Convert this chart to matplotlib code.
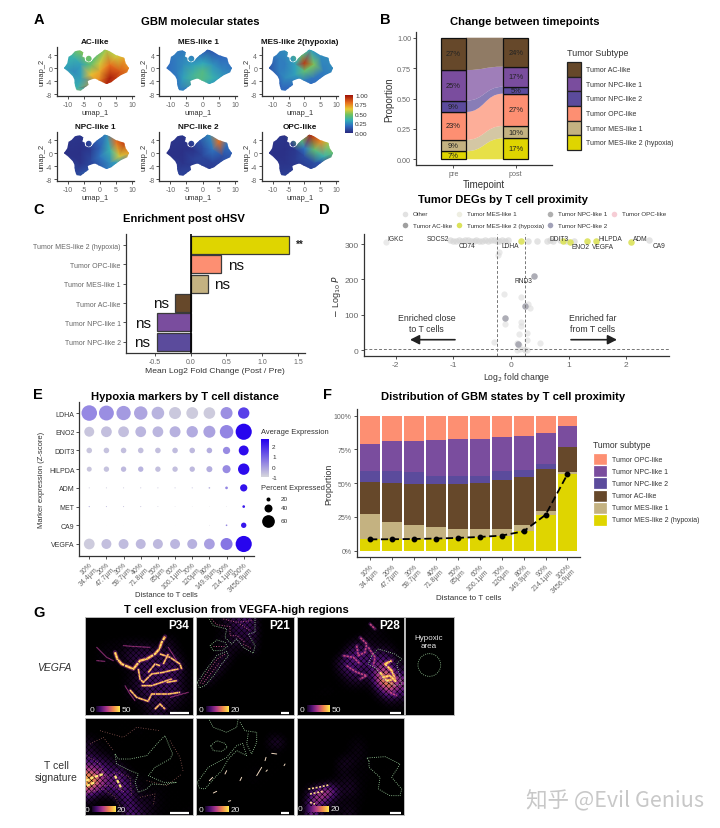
import numpy as np
import matplotlib
matplotlib.use('Agg')
import matplotlib.pyplot as plt
from matplotlib.colors import LinearSegmentedColormap, PowerNorm
from matplotlib.patches import PathPatch, Rectangle
from matplotlib.path import Path
from matplotlib.tri import Triangulation

plt.rcParams['font.family'] = ['Liberation Sans', 'DejaVu Sans']
plt.rcParams['axes.unicode_minus'] = False
plt.rcParams['hatch.linewidth'] = .4

W, H = 720, 829
DARK = '#333333'
GREY = '#666666'

COL_AC = '#66482a'
COL_NPC1 = '#7a4d9e'
COL_NPC2 = '#5b4b9c'
COL_OPC = '#fd8f72'
COL_MES1 = '#c4b281'
COL_MES2 = '#dfd500'

# panel A
STATE_NAMES = ['AC-like', 'MES-like 1', 'MES-like 2(hypoxia)',
               'NPC-like 1', 'NPC-like 2', 'OPC-like']
BLOB_X = [-11.2, -10.2, -9.8, -9, -7.8, -6.2, -5.2, -5.5, -4.8, -4.6, -3.5, -2.6, -2, -0.8, 0.6, 1.5,
          3, 5, 7.5, 8, 9, 8.5, 6.5, 5, 3.5, 2, 0.5, -1.5, -2.8, -3.8, -3.6, -4.5, -6, -7.3, -7.8, -8, -8.5, -10]
BLOB_Y = [0, 1.5, 3.5, 3.9, 5.2, 5.5, 4.8, 3.6, 3.2, 2.2, 1.7, 2.2, 3, 4, 5, 5.7,
          5.2, 4, 3.2, 1.5, 0, -1.3, -2.2, -3.2, -4.4, -4.9, -4.2, -3.2, -3.5, -4, -5.2, -5.8, -7, -6.8, -5.5, -3.5, -2.5, -1]
FIELD_X = [-13, 11, 11, -13, -11, -8, -6, -6, -3, -8, -6, -7, -3, 0, 0, -1, 2, 5, 7.5, 9, 6, 3, 3, 2, 5, -0.5]
FIELD_Y = [-9, -9, 7, 7, 0, 3, 5, 1, 1, -1, -3, -6, -2, -1, 1.5, 4, 5.5, 3.5, 3, 0, -1, 1, -3, -5, -3, -4]
AC_FIELD = [.6, .8, .6, .35, .3, .35, .5, .3, .45, .25, .3, .35, .65, .7, .6, .45, .55, .6, .7, .75, .85, .8, .97, .95, .9, .75]
MES1_FIELD = [.25, .25, .15, .2, .18, .22, .22, .25, .3, .22, .3, .22, .38, .42, .32, .2, .12, .17, .18, .2, .25, .27, .35, .3, .3, .42]
MES2_FIELD = [.2, .2, .25, .2, .12, .22, .25, .22, .3, .22, .25, .17, .3, .45, .92, .45, .3, .25, .25, .25, .22, .5, .2, .18, .2, .22]
NPC1_FIELD = [.05, .3, .5, .03, .02, .03, .03, .02, .05, .02, .03, .08, .08, .2, .15, .15, .25, .8, .9, .7, .6, .35, .25, .2, .3, .12]
NPC2_FIELD = [.05, .05, .2, .03, .02, .03, .03, .02, .03, .02, .03, .07, .07, .08, .1, .12, .25, .8, .2, .15, .1, .2, .07, .05, .08, .06]
OPC_FIELD = [.05, .1, .6, .03, .02, .03, .03, .02, .04, .02, .03, .05, .05, .1, .2, .45, .95, .75, .55, .45, .35, .45, .1, .07, .12, .05]

# panel B
B_LAYERS = ['Tumor MES-like 2 (hypoxia)', 'Tumor MES-like 1', 'Tumor OPC-like',
            'Tumor NPC-like 2', 'Tumor NPC-like 1', 'Tumor AC-like']
B_COLORS = [COL_MES2, COL_MES1, COL_OPC, COL_NPC2, COL_NPC1, COL_AC]
B_PRE = [.066, .093, .230, .093, .252, .266]
B_POST = [.173, .101, .266, .057, .165, .238]
B_PRE_LABEL = ['7%', '9%', '23%', '9%', '25%', '27%']
B_POST_LABEL = ['17%', '10%', '27%', '5%', '17%', '24%']

# panel C
C_NAMES = ['Tumor NPC-like 2', 'Tumor NPC-like 1', 'Tumor AC-like',
           'Tumor MES-like 1', 'Tumor OPC-like', 'Tumor MES-like 2 (hypoxia)']
C_VALUES = [-.48, -.47, -.22, .24, .43, 1.38]
C_COLORS = [COL_NPC2, COL_NPC1, COL_AC, COL_MES1, COL_OPC, COL_MES2]
C_SIG = ['ns', 'ns', 'ns', 'ns', 'ns', '**']

# panel D
BAND_X = [-1.05, -1, -.95, -.9, -.85, -.8, -.75, -.7, -.65, -.6, -.55, -.5, -.45, -.4, -.35, -.3, -.25, -.2,
          -.15, -.1, -.05, .3, .45, .62, .68, .72, .85, .95, 1.1, 2.4]
BAND_Y = [312, 308, 310, 312, 309, 311, 312, 309, 310, 312, 308, 310, 312, 309, 311, 312, 308, 310,
          312, 309, 311, 310, 310, 310, 312, 309, 311, 310, 308, 311]
OTHER_X = [-2.17, -.22, -.2, -.13, .17, .3, .33, .27, .28, .13, .17, -.1, -.3, .1, .13, .5, .15, .22, .25, .1, .28, .18]
OTHER_Y = [305, 270, 278, 160, 150, 130, 120, 50, 30, 45, 80, 75, 22, 20, 15, 20, 5, 5, 2, 2, 2, 70]
YELLOW_X = [.17, .9, 1.02, 1.32, 1.47, 2.08]
YELLOW_Y = [309, 309, 306, 308, 308, 307]
DARK_X = [.39, .25, -.1, .12]
DARK_Y = [210, 125, 90, 18]

# panel E
MARKERS = ['VEGFA', 'CA9', 'MET', 'ADM', 'HILPDA', 'DDIT3', 'ENO2', 'LDHA']
DIST_LABELS = ['10%\n34.4µm', '20%\n47.7µm', '30%\n59.7µm', '40%\n71.8µm', '50%\n85µm',
               '60%\n100.1µm', '70%\n120µm', '80%\n149.9µm', '90%\n214.1µm', '100%\n3456.9µm']
PCT_VEGFA = [52, 48, 48, 48, 48, 48, 48, 52, 58, 78]
PCT_CA9 = [.8, .8, .8, .8, .8, .8, .8, 3, 8, 26]
PCT_MET = [6, 5, 5, 5, 4, 3, 2.5, 2.5, 3, 13]
PCT_ADM = [5, 5, 5, 5, 5, 5, 5, 8, 13, 35]
PCT_HILPDA = [24, 26, 26, 26, 26, 26, 26, 29, 39, 55]
PCT_DDIT3 = [27, 27, 27, 27, 27, 27, 27, 27, 35, 48]
PCT_ENO2 = [48, 52, 52, 52, 52, 53, 55, 58, 65, 78]
PCT_LDHA = [75, 72, 69, 65, 61, 58, 57, 56, 58, 55]
EXP_VEGFA = [-.8, -.6, -.55, -.5, -.5, -.45, -.35, -.05, .65, 2.6]
EXP_CA9 = [-1, -1, -1, -1, -1, -1, -1, -.8, .3, 2.3]
EXP_MET = [-.4, -.5, -.6, -.7, -.8, -.85, -.95, -1, -.9, 2.2]
EXP_ADM = [-.8, -.8, -.8, -.7, -.7, -.7, -.6, -.4, .4, 2.4]
EXP_HILPDA = [-.7, -.65, -.5, -.4, -.6, -.6, -.5, -.3, .3, 2.5]
EXP_DDIT3 = [-.7, -.65, -.6, -.6, -.6, -.55, -.5, -.3, .3, 2.5]
EXP_ENO2 = [-.7, -.6, -.6, -.45, -.45, -.35, -.25, -.1, .4, 2.6]
EXP_LDHA = [.35, .25, .05, -.15, -.4, -.75, -.8, -.8, .2, 1.6]

# panel F
F_MES2 = [8.3, 8.4, 8.6, 8.9, 9.4, 10.1, 11.1, 14.3, 26.5, 56.7]
F_MES1 = [18.7, 12.6, 10, 8.4, 6.9, 5.7, 5.2, 4.3, 2.7, 1.7]
F_AC = [23.7, 29, 30.4, 31.7, 33.2, 34.4, 35.7, 35.9, 31.2, 18.3]
F_NPC2 = [8, 8.7, 8.9, 6.4, 5.9, 5.2, 6.7, 5.2, 3.6, .3]
F_NPC1 = [20, 22.5, 23, 26.5, 27, 27.5, 25.2, 25.4, 22.9, 15.3]
F_OPC = [21.3, 18.8, 19.1, 18.1, 17.6, 17.1, 16.1, 14.9, 13.1, 7.7]
F_LINE = [8.3, 8.4, 8.6, 8.9, 9.4, 10.1, 11.1, 14.3, 26.5, 56.7]

# panel G, coarse signal grids, top row first
P34_GRID = [[0, 0, 0, 0, 0, 0, 0, 0, 0, 0, 0],
            [0, 0, 0, 0, 0, 0, 0, 0, .02, .03, 0],
            [0, .02, .08, .1, .12, .15, .1, .05, .3, .05, 0],
            [0, .12, .15, .12, .3, .3, .35, .3, .3, .15, 0],
            [.02, .1, .12, .15, .3, .35, .35, .35, .35, .35, .02],
            [0, .03, .02, .02, .1, .3, .4, .4, .4, .4, .1],
            [0, 0, 0, .03, .15, .3, .4, .4, .4, .3, .1],
            [0, 0, 0, .02, .2, .3, .4, .35, .4, .35, .1],
            [0, 0, 0, 0, .1, .15, .3, .35, .3, .25, .1],
            [0, 0, 0, 0, .02, .05, .2, .3, .2, .1, .05]]
P21_GRID = [[0, .05, .15, .25, .35, .4, .35, 0, 0, 0, 0],
            [0, 0, .03, .15, .35, .3, .4, .02, 0, 0, 0],
            [0, 0, .2, .15, .3, .25, .3, .01, 0, 0, 0],
            [0, 0, .1, .25, .15, .05, .25, .01, 0, 0, 0],
            [0, .05, .3, .25, .02, 0, 0, 0, 0, 0, 0],
            [0, .2, .3, .05, 0, 0, 0, 0, 0, 0, 0],
            [.2, .3, .05, 0, 0, 0, 0, 0, 0, 0, 0],
            [.02, .02, 0, 0, 0, 0, 0, 0, 0, 0, 0],
            [0, 0, 0, 0, 0, 0, 0, 0, 0, 0, 0],
            [0, 0, 0, 0, 0, 0, 0, 0, 0, 0, 0]]
P28_GRID = [[0, 0, 0, 0, 0, 0, 0, .1, .1, .02, 0],
            [0, 0, 0, 0, 0, 0, 0, .15, .15, .02, 0],
            [0, 0, 0, 0, 0, .1, .3, .15, .1, .1, 0],
            [0, 0, 0, 0, .05, .45, .45, .35, .3, .3, .05],
            [0, 0, 0, .05, .4, .5, .45, .45, .5, .45, .15],
            [0, 0, 0, .02, .3, .45, .35, .35, .7, .7, .3],
            [0, 0, 0, .02, .05, .3, .3, .2, .9, 1, .6],
            [0, .03, .08, .1, .03, .05, .05, .05, .4, .8, .5],
            [.02, .05, .05, .02, 0, 0, .02, .02, .1, .3, .2],
            [.02, .01, 0, 0, 0, 0, 0, 0, 0, .03, .05]]
P34T_GRID = [[0, .02, .03, .03, .05, .05, .05, .03, .02, 0, 0],
             [.05, .03, .03, .05, .06, .08, .05, .04, .03, .01, 0],
             [.25, .08, .05, .04, .03, .03, .03, .03, .05, .02, 0],
             [.3, .15, .08, .03, .03, .02, .02, .02, .08, .03, 0],
             [.45, .4, .3, .08, .02, .02, .02, .04, .05, .03, .01],
             [.75, .6, .4, .5, .1, .03, .05, .03, .05, .04, .01],
             [1, .8, .45, .6, .35, .1, .08, .07, .06, .05, .02],
             [.7, .45, .4, .5, .45, .12, .1, .1, .06, .03, .02],
             [.25, .05, .05, .3, .5, .2, .25, .12, .06, .04, .03],
             [.1, 0, 0, .1, .5, .35, .2, .1, .05, .05, .08]]
P21T_GRID = [[.03, .03, .02, 0, 0, 0, 0, 0, 0, 0, 0],
             [.03, .03, .02, 0, 0, 0, 0, 0, .08, .02, 0],
             [.03, .02, .01, 0, 0, 0, 0, .02, .3, .35, 0],
             [.02, .01, 0, 0, 0, 0, .02, .03, .06, .05, .01],
             [.01, 0, 0, .02, .03, .03, .05, .05, .05, .04, .01],
             [0, 0, 0, .03, .03, .05, .08, .05, .05, .04, .02],
             [0, 0, .02, .03, .04, .05, .08, .05, .04, .02, .01],
             [0, 0, .02, .03, .04, .04, .04, .03, .02, .01, 0],
             [0, 0, .01, .02, .02, .02, .02, .01, 0, 0, 0],
             [0, 0, 0, 0, 0, 0, 0, 0, 0, 0, 0]]
P28T_GRID = [[0, 0, 0, 0, 0, 0, 0, 0, 0, 0, 0],
             [0, 0, 0, 0, 0, .03, .05, 0, 0, 0, 0],
             [0, 0, 0, 0, 0, .1, .15, .03, 0, 0, 0],
             [0, 0, 0, 0, 0, .1, .2, .03, 0, 0, 0],
             [0, 0, 0, 0, .25, .25, .1, .08, .02, .03, 0],
             [0, 0, 0, 0, .2, .1, .08, .08, .02, .08, .02],
             [0, 0, 0, .1, .15, .25, .1, .05, .02, .02, 0],
             [.02, .4, .7, .8, .2, .3, .1, .03, 0, 0, 0],
             [.05, .6, .7, .3, .15, .1, .1, .03, 0, 0, 0],
             [.02, .7, .2, .1, .15, .25, .05, 0, 0, 0, 0]]

# panel G, traces are in crop coordinates of each image
P34_BAND = [(105, 115), (112, 135), (125, 150), (160, 165), (180, 140), (200, 135), (225, 120), (238, 105), (245, 85), (255, 68)]
P34_HOT = [[(175, 165), (180, 195), (190, 205), (215, 180), (250, 175), (270, 170), (295, 165)],
           [(240, 120), (270, 130), (300, 150), (305, 165)],
           [(185, 215), (215, 215), (245, 205), (275, 195)],
           [(205, 260), (215, 240), (235, 240), (265, 240), (300, 235)],
           [(225, 285), (240, 270), (255, 285)],
           [(150, 228), (170, 250), (205, 262)],
           [(250, 150), (265, 120)], [(205, 175), (225, 150), (240, 155)], [(260, 205), (290, 200)]]
P34_DIM = [[(50, 100), (80, 130), (100, 140)], [(130, 95), (170, 98), (210, 100)], [(135, 215), (150, 240), (165, 260)],
           [(50, 140), (75, 142)], [(270, 250), (325, 235)], [(265, 100), (290, 140)]]
P21_OUT = [[(352, 205), (380, 165), (410, 125), (440, 112), (445, 125), (425, 150), (405, 180), (375, 215), (358, 222), (352, 205)],
           [(390, 95), (410, 78), (435, 85), (442, 98), (425, 110), (400, 110), (390, 95)],
           [(385, 10), (400, 35), (440, 45), (435, 70), (455, 90), (470, 75), (490, 100), (520, 118), (525, 95), (505, 60), (525, 55), (525, 10)]]
P21_SPECK = [[(360, 208), (385, 170), (412, 135), (435, 120)], [(368, 210), (395, 175), (420, 145)],
             [(400, 95), (432, 95)], [(395, 15), (410, 32), (450, 38), (450, 65), (470, 65), (495, 85)],
             [(430, 15), (470, 25), (515, 20)], [(480, 30), (510, 50)], [(490, 90), (515, 105)]]
P34T_OUT = [(105, 120), (115, 135), (150, 135), (200, 125), (235, 85), (255, 65), (278, 120), (270, 135), (225, 160), (205, 185),
            (250, 205), (290, 205), (250, 212), (215, 210), (200, 225), (175, 235), (165, 205), (175, 180), (140, 165), (110, 150), (105, 120)]
P34T_HOT = [[(18, 200), (40, 190), (70, 180)], [(20, 215), (45, 205)], [(105, 185), (115, 205), (125, 225)]]
P34T_SPECK = [[(20, 125), (60, 150), (75, 190), (110, 175), (150, 190), (155, 245)], [(20, 235), (70, 225), (105, 250), (130, 295)],
              [(30, 170), (60, 215), (95, 215), (135, 235)], [(180, 250), (225, 240), (220, 275)], [(60, 50), (130, 70), (170, 40), (240, 50)],
              [(30, 90), (70, 70), (100, 110)], [(200, 200), (260, 215), (305, 180)], [(270, 80), (300, 130), (310, 175)]]
P21T_OUT = [[(352, 205), (385, 160), (440, 130), (470, 95), (488, 88), (500, 125), (470, 110), (445, 135), (425, 170), (405, 190), (375, 225), (358, 222), (352, 205)],
            [(392, 95), (410, 80), (435, 88), (442, 100), (425, 112), (400, 110), (392, 95)],
            [(385, 12), (400, 40), (440, 55), (470, 40), (475, 12)], [(480, 25), (495, 50), (530, 55), (530, 85), (515, 120), (500, 90), (505, 55)]]
P21T_SPOTS = [[(530, 185), (545, 160)], [(480, 200), (485, 190)], [(435, 180), (440, 170)], [(400, 237), (410, 232)], [(558, 172), (562, 168)],
              [(555, 140), (558, 130)], [(575, 118), (590, 120)], [(612, 155), (615, 150)], [(445, 262), (452, 260)], [(388, 200), (398, 190)]]
P28_OUT = [(230, 125), (250, 105), (300, 120), (320, 135), (305, 150), (320, 210), (300, 215), (265, 195), (245, 165), (220, 150), (230, 125)]
P28_HOT = [[(255, 175), (275, 200), (300, 195), (290, 170), (270, 150), (290, 140)], [(262, 190), (285, 185), (305, 205)]]
P28_WARM = [[(185, 95), (190, 125), (210, 115), (215, 90), (195, 70)], [(145, 125), (175, 130), (195, 150)], [(155, 155), (185, 175), (215, 185), (195, 195)],
            [(220, 100), (240, 130), (235, 155)], [(225, 30), (240, 45)], [(285, 235), (305, 245)]]
P28T_OUT = [(222, 440), (215, 432), (270, 428), (315, 450), (290, 490), (320, 525), (315, 545), (285, 545), (250, 525), (255, 490), (222, 460), (222, 440)]
P28T_HOT = [[(40, 525), (70, 520), (105, 512)], [(45, 540), (85, 532)], [(45, 565), (60, 570)]]


def ax_px(left, top, right, bottom, **kw):
    return fig.add_axes([left / W, 1 - bottom / H, (right - left) / W, (bottom - top) / H], **kw)


def style(ax, size=5):
    ax.spines[['top', 'right']].set_visible(False)
    ax.spines[['left', 'bottom']].set_color(DARK)
    ax.spines[['left', 'bottom']].set_linewidth(.9)
    ax.tick_params(length=2, width=.6, color=DARK, labelcolor=GREY, labelsize=size, pad=1.5)
    ax.set_facecolor('none')


def put(x, y, s, size=5, color=DARK, ha='left', va='center', **kw):
    page.text(x, y, s, fontsize=size, color=color, ha=ha, va=va, **kw)


def key_rows(x, ys, labels, colors, size, edge):
    h = ys[1] - ys[0]
    for y, lab, c in zip(ys, labels, colors):
        page.add_patch(Rectangle((x, y - h / 2), 14, h, facecolor=c, edgecolor=edge, lw=.9))
        put(x + 19, y, lab, size)


fig = plt.figure(figsize=(W / 100, H / 100), dpi=100)
page = fig.add_axes([0, 0, 1, 1], zorder=10)
page.set_xlim(0, W)
page.set_ylim(H, 0)
page.axis('off')

# panel letters and titles
for lab, x, y in [('A', 39, 20), ('B', 385, 20), ('C', 39, 210), ('D', 324, 210), ('E', 38, 395), ('F', 327, 395), ('G', 39, 613)]:
    put(x, y, lab, 10.5, 'black', ha='center', fontweight='bold')
for s, x, y in [('GBM molecular states', 200, 22), ('Change between timepoints', 525, 22), ('Enrichment post oHSV', 184, 219),
                ('Tumor DEGs by T cell proximity', 503, 200), ('Hypoxia markers by T cell distance', 185, 397),
                ('Distribution of GBM states by T cell proximity', 503, 397), ('T cell exclusion from VEGFA-high regions', 236, 610)]:
    put(x, y, s, 8.1, 'black', ha='center', fontweight='bold')

# A: umap feature plots
UMAP_CMAP = LinearSegmentedColormap.from_list(
    'umap', [(0, '#2a2a80'), (.18, '#2f6cc0'), (.33, '#33aeb8'), (.48, '#6cc262'), (.63, '#e8cc35'), (.8, '#e8701e'), (1, '#a01208')])
blob = Path.make_compound_path(Path(list(zip(BLOB_X, BLOB_Y)) + [(BLOB_X[0], BLOB_Y[0])], closed=True),
                               Path.circle((-3.5, 2.9), .9))
tri = Triangulation(FIELD_X, FIELD_Y)
fields = [AC_FIELD, MES1_FIELD, MES2_FIELD, NPC1_FIELD, NPC2_FIELD, OPC_FIELD]
lefts = [57, 159.3, 262]
rights = [134, 237, 338]
tops = [48, 133]
bottoms = [97, 182]
for i, (name, field) in enumerate(zip(STATE_NAMES, fields)):
    r, c = i // 3, i % 3
    ax = ax_px(lefts[c], tops[r], rights[c], bottoms[r])
    style(ax)
    mesh = ax.tripcolor(tri, field, shading='gouraud', cmap=UMAP_CMAP, vmin=0, vmax=1)
    mesh.set_clip_path(PathPatch(blob, transform=ax.transData))
    ax.set_xlim(-13.4, 10.6)
    ax.set_ylim(-8.6, 6.5)
    ax.set_xticks([-10, -5, 0, 5, 10])
    ax.set_yticks([-8, -4, 0, 4])
    ax.set_xlabel('umap_1', fontsize=5.4, color=DARK, labelpad=1)
    ax.set_ylabel('umap_2', fontsize=5.4, color=DARK, labelpad=.5)
    ax.set_title(name, fontsize=5.9, fontweight='bold', pad=3, color='#111111')
cax = ax_px(344.7, 96.3, 352.3, 134)
cax.imshow(np.linspace(1, 0, 100)[:, None], aspect='auto', cmap=UMAP_CMAP, extent=[0, 1, 0, 1])
cax.axis('off')
for v, y in [('1.00', 96.5), ('0.75', 105.7), ('0.50', 115.2), ('0.25', 124.7), ('0.00', 134)]:
    put(355, y, v, 4.6)

# B: stacked bars with flows
ax = ax_px(416, 33, 552, 166)
style(ax, 5.2)
low_pre = np.concatenate([[0], np.cumsum(B_PRE)])
low_post = np.concatenate([[0], np.cumsum(B_POST)])
for i, c in enumerate(B_COLORS):
    a0, a1, b0, b1 = low_pre[i], low_pre[i + 1], low_post[i], low_post[i + 1]
    verts = [(1.2, a0), (1.5, a0), (1.5, b0), (1.8, b0), (1.8, b1), (1.5, b1), (1.5, a1), (1.2, a1), (1.2, a0)]
    codes = [Path.MOVETO, Path.CURVE4, Path.CURVE4, Path.CURVE4, Path.LINETO, Path.CURVE4, Path.CURVE4, Path.CURVE4, Path.CLOSEPOLY]
    ax.add_patch(PathPatch(Path(verts, codes), facecolor=c, edgecolor='none', alpha=.72))
    ax.bar([1, 2], [B_PRE[i], B_POST[i]], bottom=[a0, b0], width=.4, color=c, edgecolor='#111111', lw=.9)
    ax.text(1, (a0 + a1) / 2, B_PRE_LABEL[i], fontsize=5.4, ha='center', va='center', color='#222222')
    ax.text(2, (b0 + b1) / 2, B_POST_LABEL[i], fontsize=5.4, ha='center', va='center', color='#222222')
ax.set_xlim(.4, 2.58)
ax.set_ylim(-.047, 1.047)
ax.set_xticks([1, 2], ['pre', 'post'])
ax.set_yticks([0, .25, .5, .75, 1], ['0.00', '0.25', '0.50', '0.75', '1.00'])
ax.set_xlabel('Timepoint', fontsize=7, color=DARK, labelpad=1.5)
ax.set_ylabel('Proportion', fontsize=7, color=DARK, labelpad=2)
put(567, 53.5, 'Tumor Subtype', 6.5)
key_rows(567, [70.5, 85, 99.5, 114.5, 129, 143.5], B_LAYERS[::-1], B_COLORS[::-1], 5, '#222222')

# C: enrichment bars
ax = ax_px(125.7, 235, 305, 354)
style(ax, 5)
y_pos = np.arange(1, 7)
ax.barh(y_pos, C_VALUES, height=.92, color=C_COLORS, edgecolor='#3a3a3a', lw=.9)
ax.axvline(0, color='black', lw=1.2)
for y, v, s in zip(y_pos, C_VALUES, C_SIG):
    if s == '**':
        ax.text(v + .09, y + .08, s, fontsize=7, fontweight='bold', ha='left', va='center', color='#222222')
    else:
        ax.text(v + (.09 if v > 0 else -.09), y - .02, s, fontsize=11, ha='left' if v > 0 else 'right', va='center', color='#111111')
ax.set_xlim(-.912, 1.6)
ax.set_ylim(.415, 6.57)
ax.set_xticks([-.5, 0, .5, 1, 1.5], ['-0.5', '0.0', '0.5', '1.0', '1.5'])
ax.set_yticks(y_pos, C_NAMES)
ax.set_xlabel('Mean Log2 Fold Change (Post / Pre)', fontsize=6.1, color=DARK, labelpad=1.5)

# D: volcano
ax = ax_px(363.7, 235, 669, 356.7)
style(ax, 6)
ax.scatter(BAND_X, BAND_Y, s=22, color='#d4d4d4', alpha=.65, lw=0)
ax.scatter(OTHER_X, OTHER_Y, s=20, color='#dcdcdc', alpha=.6, lw=0)
ax.scatter(YELLOW_X, YELLOW_Y, s=22, color='#dbe25a', alpha=.9, lw=0)
ax.scatter(DARK_X, DARK_Y, s=22, color='#a4a4ae', alpha=.9, lw=0)
for v in (-.25, .25):
    ax.axvline(v, color='#777777', lw=.7, ls=(0, (3, 2)))
ax.axhline(3, color='#777777', lw=.7, ls=(0, (3, 2)))
ax.set_xlim(-2.555, 2.74)
ax.set_ylim(-15.3, 328.5)
ax.set_xticks([-2, -1, 0, 1, 2])
ax.set_yticks([0, 100, 200, 300])
ax.set_xlabel(r'Log$_2$ fold change', fontsize=6.2, color=DARK, labelpad=1.5)
ax.set_ylabel(r'$-$ Log$_{10}$ $P$', fontsize=6.5, color=DARK, labelpad=1)
for s, zx, zy in [('IGKC', 198, 148), ('SOCS2', 324, 148), ('CD74', 411, 170), ('LDHA', 542, 170), ('DDIT3', 687, 148), ('ENO2', 751, 171),
                  ('VEGFA', 818, 173), ('HILPDA', 841, 148), ('ADM', 930, 148), ('CA9', 987, 168), ('RND3', 579, 275)]:
    put(330 + zx / 3, 190 + zy / 3, s, 4.8, ha='center')
put(426.7, 324, 'Enriched close\nto T cells', 6.3, ha='center', linespacing=1.15)
put(592.7, 324, 'Enriched far\nfrom T cells', 6.3, ha='center', linespacing=1.15)
for x0, x1 in [(455, 410), (571, 617)]:
    page.annotate('', xy=(x1, 340.7), xytext=(x0, 340.7),
                  arrowprops=dict(arrowstyle='-|>,head_width=.28,head_length=.55', color='#222222', lw=1.2, shrinkA=0, shrinkB=0))
legend_d = [('Other', 225, 74, '#e2e2e2'), ('Tumor MES-like 1', 388, 74, '#eeeee2'), ('Tumor NPC-like 1', 660, 74, '#b0b0b0'), ('Tumor OPC-like', 852, 74, '#f6cdd5'),
            ('Tumor AC-like', 225, 109, '#a0a0a0'), ('Tumor MES-like 2 (hypoxia)', 388, 109, '#dbe25a'), ('Tumor NPC-like 2', 660, 109, '#a2a2b8')]
for s, zx, zy, c in legend_d:
    page.scatter([330 + zx / 3], [190 + zy / 3], s=16, color=c, lw=0)
    put(330 + (zx + 23) / 3, 190 + zy / 3, s, 4.5)

# E: dot plot
ax = ax_px(79.3, 403, 254, 556.7)
style(ax, 5)
pct_rows = [PCT_VEGFA, PCT_CA9, PCT_MET, PCT_ADM, PCT_HILPDA, PCT_DDIT3, PCT_ENO2, PCT_LDHA]
exp_rows = [EXP_VEGFA, EXP_CA9, EXP_MET, EXP_ADM, EXP_HILPDA, EXP_DDIT3, EXP_ENO2, EXP_LDHA]
x_cat = np.arange(10)
dot_cmap = LinearSegmentedColormap.from_list('dot', ['#d6d6dc', '#2400ee'])
for j, (pct, exp) in enumerate(zip(pct_rows, exp_rows)):
    ax.scatter(x_cat, [j] * 10, s=(np.array(pct) * .149) ** 2, c=exp, cmap=dot_cmap, vmin=-1, vmax=2.7, lw=0, clip_on=False)
ax.set_xlim(-.58, 9.6)
ax.set_ylim(-.626, 7.59)
ax.set_yticks(range(8), MARKERS)
ax.set_xticks(x_cat, DIST_LABELS, rotation=45, ha='right', rotation_mode='anchor', fontsize=5, linespacing=1)
ax.tick_params(axis='y', labelcolor=DARK)
ax.set_xlabel('Distance to T cells', fontsize=5.5, color=DARK, labelpad=-1)
ax.set_ylabel('Marker expression (Z-score)', fontsize=5.5, color=DARK, labelpad=3)
put(260.7, 433, 'Average Expression', 5.4)
cax = ax_px(260.7, 440, 268, 478)
cax.imshow(np.linspace(2.7, -1, 100)[:, None], aspect='auto', cmap=dot_cmap, vmin=-1, vmax=2.7)
cax.axis('off')
for v, y in [('2', 447.3), ('1', 457.7), ('0', 468), ('-1', 478)]:
    put(272, y, v, 4.6)
put(260.7, 488.7, 'Percent Expressed', 5.4)
for v, y, d in [(20, 499.7, 4), (40, 509, 8), (60, 521.7, 12.7)]:
    page.scatter([268.3], [y], s=(d * .72) ** 2, color='black', lw=0)
    put(280.5, y, str(v), 4.6)

# F: stacked bars with trend
ax = ax_px(356.7, 410, 580, 558.3)
style(ax, 5)
f_layers = [F_MES2, F_MES1, F_AC, F_NPC2, F_NPC1, F_OPC]
f_colors = [COL_MES2, COL_MES1, COL_AC, COL_NPC2, COL_NPC1, COL_OPC]
bottom = np.zeros(10)
for vals, c in zip(f_layers, f_colors):
    ax.bar(x_cat, vals, bottom=bottom, width=.91, color=c, lw=0)
    bottom += np.array(vals)
ax.plot(x_cat, F_LINE, color='black', lw=1.3, ls=(0, (4, 2)), marker='o', ms=3.2)
ax.set_xlim(-.61, 9.57)
ax.set_ylim(-5, 105)
ax.set_xticks(x_cat, DIST_LABELS, rotation=45, ha='right', rotation_mode='anchor', fontsize=5, linespacing=1)
ax.set_yticks([0, 25, 50, 75, 100], ['0%', '25%', '50%', '75%', '100%'])
ax.set_xlabel('Distance to T cells', fontsize=5.8, color=DARK, labelpad=0)
ax.set_ylabel('Proportion', fontsize=6.4, color=DARK, labelpad=.5)
put(593.3, 446, 'Tumor subtype', 6.2)
f_names = ['Tumor OPC-like', 'Tumor NPC-like 1', 'Tumor NPC-like 2', 'Tumor AC-like', 'Tumor MES-like 1', 'Tumor MES-like 2 (hypoxia)']
key_rows(593.3, [460.3, 472.3, 484.3, 496.7, 508.7, 520.7], f_names, f_colors[::-1], 5, 'white')


# G: spatial images
IMG = LinearSegmentedColormap.from_list('img', ['#000000', '#4a1070', '#b03a8a', '#f0884c', '#ffe74f'])


def image_ax(left, top, right, bottom, crop, grid=None, stipple='xxxxxx'):
    a = ax_px(left, top, right, bottom)
    a.set_facecolor('black')
    if grid is not None:
        a.imshow(grid, cmap=IMG, norm=PowerNorm(1.7, vmin=0, vmax=1), aspect='auto', interpolation='bicubic',
                 extent=[crop[0], crop[1], crop[3], crop[2]])
        a.add_patch(Rectangle((crop[0], crop[2]), crop[1] - crop[0], crop[3] - crop[2], facecolor='none',
                              edgecolor='black', hatch=stipple, lw=0, zorder=2))
    a.set_xlim(crop[0], crop[1])
    a.set_ylim(crop[3], crop[2])
    a.set_xticks([])
    a.set_yticks([])
    for sp in a.spines.values():
        sp.set_color('#bbbbbb')
        sp.set_linewidth(.7)
    return a


def draw(a, pts, color, lw, dash=None, alpha=1):
    xs, ys = zip(*pts)
    ls = '-' if dash is None else (0, dash)
    a.plot(xs, ys, color=color, lw=lw, ls=ls, alpha=alpha, solid_capstyle='round', solid_joinstyle='round', zorder=3)


def hot(a, pts, w=1.8):
    draw(a, pts, '#8a2a8f', w * 1.8, alpha=.45)
    draw(a, pts, '#f29a45', w, dash=(3, .5))
    draw(a, pts, '#ffe97a', w * .5, dash=(2, .8))


def warm(a, pts, w=1.6):
    draw(a, pts, '#6a1d7f', w * 1.8, alpha=.45)
    draw(a, pts, '#c8467f', w * .8, dash=(1.5, .6))


def outline(a, pts):
    draw(a, pts, '#a8e0a8', .6, dash=(1, 1.6))


def scale_info(a, x0, x1, y0, y1, lo, lo_x, hi, hi_x, bar0, bar1, bar_y):
    a.imshow(np.linspace(.08, 1, 60)[None, :], aspect='auto', cmap=IMG, vmin=0, vmax=1, extent=[x0, x1, y1, y0], zorder=5)
    a.text(lo_x, (y0 + y1) / 2, lo, color='#e8e8e8', fontsize=6, ha='center', va='center', zorder=6)
    a.text(hi_x, (y0 + y1) / 2, hi, color='#e8e8e8', fontsize=6, ha='center', va='center', zorder=6)
    a.plot([bar0, bar1], [bar_y, bar_y], color='white', lw=1.6, solid_capstyle='butt', zorder=6)


def reset_view(a, crop):
    a.set_xlim(crop[0], crop[1])
    a.set_ylim(crop[3], crop[2])


crop_p34 = (15, 339, 10, 302)
crop_p21 = (348, 641, 10, 302)
crop_p28 = (6, 326, 10, 302)
crop_p28t = (6, 326, 312, 603)
crop_p34t = (15, 339, 12, 303)
crop_p21t = (348, 641, 12, 303)

a = image_ax(85, 618.3, 193, 715.7, crop_p34, P34_GRID)
for t in P34_DIM:
    warm(a, t, .6)
for t in P34_HOT:
    hot(a, t, 1.2)
hot(a, P34_BAND, 1.8)
a.text(297, 33, 'P34', color='white', fontsize=8.5, fontweight='bold', ha='center', va='center')
scale_info(a, 48, 118, 278, 295, '0', 35, '50', 140, 270, 328, 297)
reset_view(a, crop_p34)

a = image_ax(196, 618.3, 293.7, 715.7, crop_p21, P21_GRID)
for t in P21_SPECK:
    draw(a, t, '#d06090', .7, dash=(1, 1.6), alpha=.9)
for t in P21_OUT:
    outline(a, t)
a.text(600, 33, 'P21', color='white', fontsize=8.5, fontweight='bold', ha='center', va='center')
scale_info(a, 377, 444, 278, 295, '0', 362, '20', 465, 602, 627, 297)
reset_view(a, crop_p21)

a = image_ax(297, 618.3, 403.7, 715.7, crop_p28, P28_GRID)
for t in P28_WARM:
    warm(a, t, 1.4)
for t in P28_HOT:
    hot(a, t, 1.8)
outline(a, P28_OUT)
a.text(285, 33, 'P28', color='white', fontsize=8.5, fontweight='bold', ha='center', va='center')
scale_info(a, 35, 102, 277, 295, '0', 20, '50', 124, 285, 318, 296)
reset_view(a, crop_p28)

a = image_ax(405.3, 618.3, 453.7, 715.7, (331, 476, 10, 302))
a.add_patch(PathPatch(Path.circle((403, 153), 34), facecolor='none', edgecolor='#a8e0a8', lw=.6, ls=(0, (1, 1.6))))
a.text(401, 83, 'Hypoxic\narea', color='#e8e8e8', fontsize=5.8, ha='center', va='center', linespacing=1.2)

a = image_ax(85, 719, 193, 816, crop_p34t, P34T_GRID)
for t in P34T_SPECK:
    draw(a, t, '#e08a80', .6, dash=(.8, 2.2), alpha=.8)
for t in P34T_HOT:
    draw(a, t, '#ffe97a', 1.6, dash=(1.5, .7))
outline(a, P34T_OUT)
scale_info(a, 35, 105, 277, 295, '0', 20, '20', 125, 270, 328, 297)
reset_view(a, crop_p34t)

a = image_ax(196, 719, 293.7, 816, crop_p21t, P21T_GRID)
for t in P21T_SPOTS:
    draw(a, t, '#f0d8c0', .7)
for t in P21T_OUT:
    outline(a, t)
scale_info(a, 375, 444, 277, 295, '0', 362, '20', 465, 602, 627, 297)
reset_view(a, crop_p21t)

a = image_ax(297, 719, 403.7, 816, crop_p28t, P28T_GRID)
for t in P28T_HOT:
    draw(a, t, '#ffd98a', 1.2, dash=(1.2, 1))
outline(a, P28T_OUT)
scale_info(a, 30, 100, 576, 594, '0', 16, '20', 120, 285, 318, 598)
reset_view(a, crop_p28t)

put(54, 668, 'VEGFA', 7.5, style='italic', ha='center')
put(56, 772, 'T cell\nsignature', 7.5, ha='center', linespacing=1.2)

page.text(615, 801, '知乎 @Evil Genius', fontsize=15.5, color='#c8c8c8', ha='center', va='center',
          family=['Noto Sans CJK SC', 'DejaVu Sans'])

fig.savefig('out.png', dpi=100)
